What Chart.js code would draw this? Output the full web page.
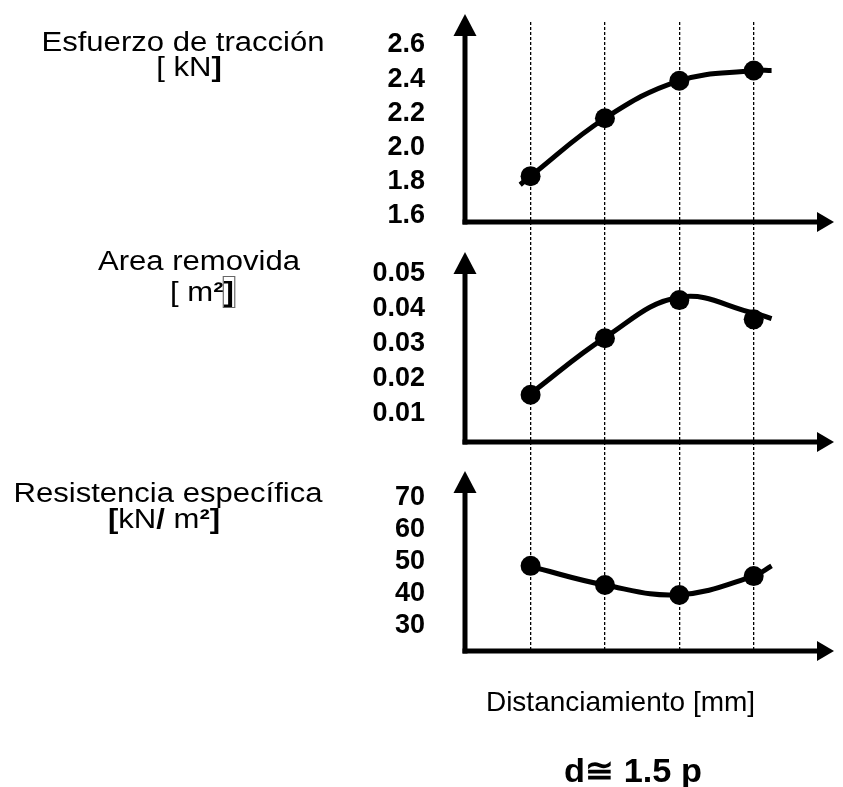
<!DOCTYPE html>
<html>
<head>
<meta charset="utf-8">
<script src="https://cdn.jsdelivr.net/npm/chart.js@4.4.1/dist/chart.umd.min.js"></script>
<style>
    html, body { margin: 0; padding: 0; background: #fff; }
    #wrap { position: relative; width: 843px; height: 787px; overflow: hidden; }
    #chart { position: absolute; left: 0; top: 0; }
    .lbl {
        position: absolute; width: 400px; text-align: center; white-space: nowrap;
        font-family: "Liberation Sans", Arial, sans-serif; color: #000;
    }
</style>
</head>
<body>
<div id="wrap">
    <canvas id="chart" width="843" height="787"></canvas>
</div>
<script>
// posiciones de las 4 mediciones (lineas punteadas)
const xPositions = [1, 2, 3, 4];

// valores medidos
const tractionValues = [1.83, 2.17, 2.39, 2.45];
const areaValues = [0.0155, 0.0316, 0.0425, 0.0370];
const resistValues = [48.8, 42.8, 39.7, 45.6];

// trazo suavizado de cada curva (incluye el trozo que sobresale)
const tractionCurveX = [0.86, 1, 2, 3, 4, 4.24];
const tractionCurveY = [1.78, 1.83, 2.17, 2.39, 2.45, 2.45];
const areaCurveX = [1, 2, 3, 4, 4.24];
const areaCurveY = [0.0158, 0.0318, 0.0433, 0.0388, 0.0372];
const resistCurveX = [1, 2, 3, 4, 4.24];
const resistCurveY = [48.6, 42.8, 39.8, 45.6, 48.8];

// etiquetas de los ejes
const tractionTickLabels = ['1.6', '1.8', '2.0', '2.2', '2.4', '2.6'];
const areaTickLabels = ['0.01', '0.02', '0.03', '0.04', '0.05'];
const resistTickLabels = ['30', '40', '50', '60', '70'];

const FONT = '"Liberation Sans", Arial, sans-serif';

function pts(xs, ys) {
    return xs.map((x, i) => ({ x: x, y: ys[i] }));
}

function markerSet(values, axis) {
    return {
        data: pts(xPositions, values), yAxisID: axis, showLine: false,
        pointRadius: 10, pointBackgroundColor: '#000', pointBorderWidth: 0
    };
}

function curveSet(xs, ys, axis) {
    return {
        data: pts(xs, ys), yAxisID: axis, borderColor: '#000', borderWidth: 5,
        tension: 0.4, pointRadius: 0, fill: false
    };
}

function panelScale(labels, min, max, weight, stackWeight) {
    const values = labels.map(Number);
    return {
        type: 'linear', position: 'left', stack: 'panels', stackWeight: stackWeight, weight: weight,
        min: min, max: max,
        afterBuildTicks: s => { s.ticks = values.map(v => ({ value: v })); },
        // sin relleno extra: los paneles van pegados uno debajo del otro
        afterFit: s => { s.width = 465; s.paddingTop = 0; s.paddingBottom = 0; },
        ticks: {
            autoSkip: false, color: '#000', padding: 40,
            font: { family: FONT, size: 27, weight: 'bold' },
            callback: v => labels[values.indexOf(v)]
        },
        grid: { display: false, drawTicks: false },
        border: { display: false }
    };
}

// ejes con flecha de cada panel (tip = punta de la flecha vertical respecto al borde del panel)
const panelAxes = [
    { id: 'yT', tip: -8 },
    { id: 'yA', tip: 30 },
    { id: 'yR', tip: 29 }
];

const axisArrows = {
    id: 'axisArrows',
    afterDatasetsDraw(chart) {
        const ctx = chart.ctx;
        const left = chart.chartArea.left;
        const right = chart.chartArea.right;
        ctx.save();
        ctx.strokeStyle = '#000';
        ctx.fillStyle = '#000';
        ctx.lineWidth = 5;
        panelAxes.forEach(p => {
            const s = chart.scales[p.id];
            const tipY = s.top + p.tip;
            const baseY = s.bottom;
            ctx.beginPath();
            ctx.moveTo(left, baseY + 2.5);
            ctx.lineTo(left, tipY + 15);
            ctx.stroke();
            ctx.beginPath();
            ctx.moveTo(left - 2.5, baseY);
            ctx.lineTo(right - 12, baseY);
            ctx.stroke();
            ctx.beginPath();
            ctx.moveTo(left, tipY);
            ctx.lineTo(left - 11.5, tipY + 22);
            ctx.lineTo(left + 11.5, tipY + 22);
            ctx.closePath();
            ctx.fill();
            ctx.beginPath();
            ctx.moveTo(right + 1, baseY);
            ctx.lineTo(right - 16, baseY - 10);
            ctx.lineTo(right - 16, baseY + 10);
            ctx.closePath();
            ctx.fill();
        });
        ctx.restore();
    }
};

new Chart(document.getElementById('chart'), {
    type: 'line',
    data: {
        datasets: [
            markerSet(tractionValues, 'yT'),
            markerSet(areaValues, 'yA'),
            markerSet(resistValues, 'yR'),
            curveSet(tractionCurveX, tractionCurveY, 'yT'),
            curveSet(areaCurveX, areaCurveY, 'yA'),
            curveSet(resistCurveX, resistCurveY, 'yR')
        ]
    },
    options: {
        responsive: false,
        animation: false,
        layout: { padding: { top: 22, bottom: 136, left: 0, right: 2 } },
        plugins: { legend: { display: false }, tooltip: { enabled: false } },
        scales: {
            x: {
                type: 'linear', min: 0.118, max: 5.066,
                afterBuildTicks: s => { s.ticks = xPositions.map(v => ({ value: v })); },
                afterFit: s => { s.height = 0; s.paddingLeft = 0; s.paddingRight = 0; },
                ticks: { display: false },
                grid: { color: '#000', lineWidth: 1.3, drawTicks: false },
                border: { display: false, dash: [3, 2] }
            },
            yT: panelScale(tractionTickLabels, 1.561, 2.735, 3, 200),
            yA: panelScale(areaTickLabels, 0.00201, 0.06478, 2, 220),
            yR: panelScale(resistTickLabels, 22.19, 87.5, 1, 209)
        }
    },
    plugins: [axisArrows]
});

// textos
function addLabel(html, cx, baseline, size, bold, sx) {
    const d = document.createElement('div');
    d.className = 'lbl';
    d.innerHTML = html;
    d.style.left = (cx - 200) + 'px';
    d.style.top = (baseline - 0.8465 * size) + 'px';
    d.style.fontSize = size + 'px';
    d.style.lineHeight = size + 'px';
    d.style.fontWeight = bold ? 'bold' : 'normal';
    d.style.transform = 'scaleX(' + sx + ')';
    document.getElementById('wrap').appendChild(d);
}

addLabel('Esfuerzo de tracción', 182.5, 52, 27, false, 1.15);
addLabel('[ kN<b>]</b>', 189, 77, 27, false, 1.15);
addLabel('Area removida', 198.5, 271, 27, false, 1.15);
addLabel('[ m<b>²</b><b style="outline:1px solid #666;">]</b>', 202, 302, 27, false, 1.15);
addLabel('Resistencia específica', 167.5, 503, 27, false, 1.15);
addLabel('<b>[</b>kN<b>/</b> m<b>²]</b>', 164, 529, 27, false, 1.15);
addLabel('Distanciamiento [mm]', 620.5, 712, 28, false, 1);
addLabel('d≅ 1.5 p', 632.5, 782, 33, true, 1.04);
</script>
</body>
</html>
